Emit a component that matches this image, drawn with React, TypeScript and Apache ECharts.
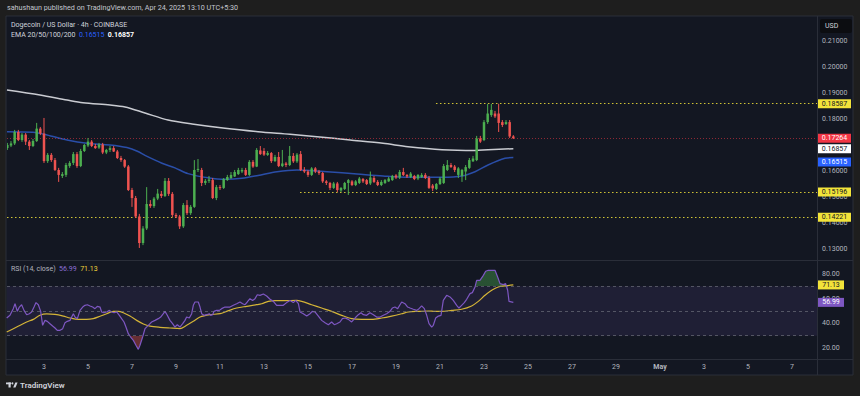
import React, { useEffect, useRef } from "react";
import * as echarts from "echarts";

// ---------- DATA ----------
// 4h candles; candle i is centred at CANDLE_FIRST_HOUR + i * CANDLE_STEP_HOURS hours after 1 Apr 2025 00:00 (chart time)
const CANDLE_FIRST_HOUR = 8;
const CANDLE_STEP_HOURS = 4;
// [open, high, low, close]
const CANDLES: [number, number, number, number][] = [
  [0.1688, 0.1708, 0.1681, 0.17], [0.1698, 0.1715, 0.1692, 0.1706], [0.1706, 0.1758, 0.17, 0.175], [0.175, 0.1758, 0.1715, 0.1719],
  [0.1719, 0.1746, 0.1712, 0.174], [0.174, 0.1746, 0.17, 0.1713], [0.1713, 0.1719, 0.1681, 0.1696], [0.1696, 0.1723, 0.1692, 0.1715],
  [0.1715, 0.1785, 0.1712, 0.1763], [0.1763, 0.1769, 0.1738, 0.1744], [0.1744, 0.1804, 0.1631, 0.1638], [0.1638, 0.1669, 0.1631, 0.1662],
  [0.1662, 0.1669, 0.1635, 0.1642], [0.1642, 0.165, 0.16, 0.1604], [0.1604, 0.1612, 0.1558, 0.1585], [0.1581, 0.1596, 0.1573, 0.1588],
  [0.1585, 0.1631, 0.1577, 0.1623], [0.1619, 0.1638, 0.1612, 0.1631], [0.1631, 0.1673, 0.1623, 0.1665], [0.1665, 0.1673, 0.1612, 0.1619],
  [0.1619, 0.1685, 0.1615, 0.1677], [0.1677, 0.1704, 0.1673, 0.17], [0.1698, 0.1727, 0.1692, 0.1713], [0.1713, 0.1719, 0.1692, 0.1696],
  [0.1696, 0.1704, 0.1685, 0.1688], [0.169, 0.1708, 0.1685, 0.1702], [0.1702, 0.1708, 0.1665, 0.1671], [0.1671, 0.1685, 0.1665, 0.1681],
  [0.1681, 0.1696, 0.1673, 0.1688], [0.1688, 0.1696, 0.1673, 0.1675], [0.1675, 0.1681, 0.1646, 0.165], [0.165, 0.1658, 0.1635, 0.1642],
  [0.1642, 0.1646, 0.1612, 0.1617], [0.1617, 0.1623, 0.1523, 0.1527], [0.1527, 0.1535, 0.1462, 0.1496], [0.1496, 0.1504, 0.1419, 0.1425],
  [0.1425, 0.1435, 0.1304, 0.1323], [0.1323, 0.1388, 0.1315, 0.1379], [0.1379, 0.1538, 0.1373, 0.1473], [0.1473, 0.1488, 0.1458, 0.1465],
  [0.1465, 0.15, 0.1458, 0.1494], [0.1494, 0.1531, 0.1488, 0.1513], [0.1512, 0.1523, 0.1496, 0.1504], [0.1504, 0.1573, 0.15, 0.1562],
  [0.1562, 0.1573, 0.1504, 0.1512], [0.1512, 0.1519, 0.1423, 0.1431], [0.1431, 0.1438, 0.1419, 0.1425], [0.1425, 0.1431, 0.1377, 0.1387],
  [0.1387, 0.1477, 0.1381, 0.1469], [0.1469, 0.1488, 0.1431, 0.1438], [0.1438, 0.1469, 0.1431, 0.1462], [0.1462, 0.1642, 0.1458, 0.1604],
  [0.1604, 0.1646, 0.1596, 0.1608], [0.1604, 0.1612, 0.1542, 0.1554], [0.1554, 0.1569, 0.1546, 0.1562], [0.1562, 0.1581, 0.1554, 0.1567],
  [0.1565, 0.1573, 0.1492, 0.1496], [0.1496, 0.1546, 0.1488, 0.1538], [0.1538, 0.1546, 0.1527, 0.1535], [0.1535, 0.1573, 0.1531, 0.1569],
  [0.1565, 0.1585, 0.1562, 0.1577], [0.1573, 0.1596, 0.1569, 0.1585], [0.1579, 0.1604, 0.1577, 0.1596], [0.1588, 0.1612, 0.1585, 0.1604],
  [0.1598, 0.1612, 0.1592, 0.1604], [0.1604, 0.1612, 0.1581, 0.1585], [0.1585, 0.1642, 0.1581, 0.1635], [0.1635, 0.1642, 0.1612, 0.1617],
  [0.1617, 0.1688, 0.1615, 0.1681], [0.1679, 0.1696, 0.1662, 0.1665], [0.1677, 0.1688, 0.1658, 0.1663], [0.1662, 0.1677, 0.1658, 0.1669],
  [0.1669, 0.1673, 0.1631, 0.1638], [0.1638, 0.1662, 0.1635, 0.1654], [0.1654, 0.1673, 0.1615, 0.1619], [0.1619, 0.1681, 0.1615, 0.1629],
  [0.1629, 0.1635, 0.1615, 0.1623], [0.1623, 0.1696, 0.1619, 0.1658], [0.1658, 0.1669, 0.1631, 0.1637], [0.1637, 0.1669, 0.1631, 0.1663],
  [0.1665, 0.1677, 0.16, 0.1604], [0.1604, 0.1615, 0.1592, 0.1598], [0.1598, 0.1604, 0.1577, 0.1585], [0.1585, 0.1615, 0.1581, 0.161],
  [0.161, 0.1615, 0.1592, 0.1598], [0.1598, 0.1604, 0.1585, 0.1592], [0.1592, 0.1596, 0.1554, 0.156], [0.156, 0.1565, 0.1546, 0.1554],
  [0.1554, 0.1558, 0.1527, 0.1535], [0.1535, 0.1558, 0.1531, 0.1552], [0.1552, 0.1558, 0.1519, 0.1527], [0.1525, 0.1538, 0.1519, 0.1535],
  [0.1531, 0.1558, 0.1527, 0.1554], [0.1554, 0.1569, 0.1508, 0.1565], [0.156, 0.1565, 0.1542, 0.1546], [0.1546, 0.1565, 0.1542, 0.156],
  [0.1554, 0.1577, 0.155, 0.1571], [0.1569, 0.1573, 0.1554, 0.156], [0.1565, 0.1569, 0.1546, 0.155], [0.1552, 0.1598, 0.1546, 0.1575],
  [0.1573, 0.1581, 0.1554, 0.1558], [0.1558, 0.1565, 0.1542, 0.1546], [0.1546, 0.1565, 0.1542, 0.1558], [0.1554, 0.1569, 0.155, 0.1565],
  [0.156, 0.1577, 0.1558, 0.1571], [0.1565, 0.1585, 0.1562, 0.1581], [0.1583, 0.1588, 0.1569, 0.1575], [0.1575, 0.1604, 0.1569, 0.1596],
  [0.1596, 0.1612, 0.1581, 0.1585], [0.1585, 0.1588, 0.1573, 0.1579], [0.1577, 0.1596, 0.1573, 0.159], [0.1581, 0.1585, 0.1565, 0.1569],
  [0.1571, 0.1588, 0.1565, 0.1585], [0.1577, 0.1592, 0.1573, 0.1585], [0.1585, 0.1592, 0.1569, 0.1573], [0.1573, 0.1581, 0.1531, 0.1535],
  [0.1544, 0.155, 0.1523, 0.1533], [0.1531, 0.1554, 0.1527, 0.155], [0.155, 0.1577, 0.1546, 0.1571], [0.1554, 0.1627, 0.155, 0.1619],
  [0.1604, 0.1642, 0.16, 0.1623], [0.1623, 0.1631, 0.1612, 0.1615], [0.1617, 0.1623, 0.1596, 0.1604], [0.1585, 0.1615, 0.1573, 0.161],
  [0.1581, 0.1608, 0.1558, 0.1604], [0.1598, 0.1623, 0.1565, 0.1615], [0.1612, 0.165, 0.1608, 0.1642], [0.1637, 0.1658, 0.1635, 0.1648],
  [0.1642, 0.1735, 0.1638, 0.1725], [0.1725, 0.1735, 0.1708, 0.1713], [0.1719, 0.1796, 0.1715, 0.1788], [0.1788, 0.1858, 0.1781, 0.1821],
  [0.1815, 0.1858, 0.1808, 0.1835], [0.1821, 0.1831, 0.1804, 0.181], [0.1821, 0.18587, 0.175, 0.1785], [0.1788, 0.1796, 0.1769, 0.1777],
  [0.1781, 0.1796, 0.1777, 0.1788], [0.1788, 0.1796, 0.1727, 0.1733], [0.1733, 0.1738, 0.1723, 0.17264],
];

// [hour, value]
const EMA_WHITE: [number, number][] = [
  [7.6, 0.19115], [43.6, 0.18923], [73.1, 0.18731], [90.5, 0.18627], [120, 0.18538], [136.4, 0.18462], [158.2, 0.18231],
  [183.3, 0.17962], [209.5, 0.17808], [245.5, 0.17642], [281.5, 0.17512], [316.4, 0.17412], [345.8, 0.17319], [381.8, 0.17192],
  [417.8, 0.17065], [445.1, 0.16935], [482.2, 0.1682], [518.2, 0.1679], [532.4, 0.1682], [560, 0.16857],
];
const EMA_BLUE: [number, number][] = [
  [7.6, 0.17512], [36, 0.17488], [51.3, 0.17385], [73.1, 0.17192], [94.9, 0.17065], [120, 0.17], [138.5, 0.169],
  [150.5, 0.1675], [158.2, 0.166], [176.7, 0.163], [190.9, 0.1612], [205.1, 0.159], [226.9, 0.1574], [245.5, 0.1568],
  [264, 0.15719], [281.5, 0.15827], [302.2, 0.15973], [324, 0.16038], [356.7, 0.15973], [389.5, 0.15885], [417.8, 0.15808],
  [445.1, 0.15758], [482.2, 0.15758], [504, 0.15808], [518.2, 0.15973], [532.4, 0.16231], [550.9, 0.16488], [560, 0.16515],
];

const RSI: [number, number][] = [
  [7.3, 44.3], [10.9, 46.5], [14.5, 51.9], [16.4, 55.9], [18.9, 49.7], [21.1, 53.2], [23.6, 55.1], [26.2, 50.5], [29.1, 47.0],
  [32.0, 47.8], [34.5, 49.2], [37.1, 53.2], [39.3, 56.8], [41.8, 55.1], [44.4, 49.7], [46.5, 38.4], [49.1, 42.4], [51.6, 41.6],
  [54.5, 39.7], [57.4, 37.8], [60.0, 36.2], [62.5, 34.3], [65.5, 34.3], [68.4, 35.7], [70.9, 40.5], [73.4, 41.6], [76.4, 42.4],
  [78.2, 45.1], [80.0, 47.8], [81.8, 45.1], [84.4, 43.8], [87.3, 50.5], [90.2, 53.2], [92.7, 54.6], [95.3, 55.1], [98.2, 54.1],
  [101.1, 53.2], [103.6, 51.9], [106.2, 53.8], [109.1, 53.2], [110.9, 49.2], [113.4, 48.6], [116.4, 49.2], [119.3, 50.5],
  [121.8, 49.2], [124.4, 48.6], [127.3, 49.2], [130.2, 46.5], [132.7, 43.8], [135.3, 41.1], [137.4, 37.0], [140.0, 31.6],
  [142.5, 28.9], [145.5, 26.2], [148.3, 22.2], [150.9, 18.9], [152.7, 22.2], [155.6, 28.9], [158.2, 35.7], [161.8, 38.4],
  [165.4, 41.1], [169.1, 42.4], [172.7, 43.8], [175.3, 45.1], [178.2, 47.8], [180.0, 49.7], [182.5, 46.5], [185.4, 42.4],
  [188.3, 39.7], [190.9, 37.0], [193.4, 38.9], [196.3, 37.0], [199.3, 39.7], [201.8, 42.4], [203.6, 45.1], [206.5, 44.3],
  [209.1, 47.8], [210.9, 54.6], [212.7, 57.3], [216.3, 57.3], [218.2, 53.2], [220.0, 47.8], [222.5, 46.5], [225.4, 47.0],
  [228.3, 47.8], [229.8, 46.5], [232.0, 47.0], [233.4, 49.7], [236.3, 50.5], [239.3, 50.5], [241.8, 51.9], [245.4, 53.2],
  [250.9, 53.2], [254.5, 54.6], [258.2, 55.9], [261.8, 57.3], [264.7, 55.9], [267.3, 55.1], [269.8, 57.3], [272.7, 60.0],
  [275.6, 58.6], [278.2, 60.0], [280.7, 63.2], [283.6, 62.7], [287.3, 63.8], [290.9, 62.2], [294.6, 59.5], [298.2, 57.8],
  [301.8, 54.6], [305.5, 54.6], [309.1, 54.6], [312.7, 56.8], [316.4, 58.6], [320.0, 56.8], [322.6, 58.6], [325.5, 55.9],
  [327.3, 49.2], [330.9, 47.8], [334.6, 45.9], [338.2, 47.8], [340.7, 49.7], [343.6, 49.2], [347.3, 45.9], [350.9, 42.4],
  [354.6, 40.5], [358.2, 38.9], [361.8, 41.1], [364.7, 38.9], [367.3, 39.7], [370.9, 41.1], [373.5, 43.8], [376.4, 44.3],
  [380.0, 43.2], [383.6, 41.1], [387.3, 44.3], [390.9, 47.0], [393.8, 48.6], [396.4, 47.0], [400.0, 46.5], [403.6, 48.6],
  [407.3, 47.0], [410.9, 45.1], [414.6, 45.1], [418.2, 46.5], [421.8, 47.8], [425.5, 49.7], [428.0, 52.4], [430.9, 53.2],
  [433.8, 51.9], [436.4, 55.1], [438.2, 57.3], [441.8, 55.9], [444.7, 53.2], [447.3, 52.4], [450.9, 51.4], [454.6, 50.5],
  [457.1, 51.9], [460.0, 54.1], [462.9, 51.9], [465.5, 46.5], [468.0, 39.7], [470.9, 37.0], [472.7, 38.4], [475.3, 44.3],
  [478.2, 45.9], [481.1, 46.5], [483.6, 58.6], [487.3, 62.7], [490.9, 61.4], [494.5, 58.6], [498.2, 54.6], [500.7, 52.4],
  [503.6, 54.6], [506.5, 56.8], [509.1, 59.5], [512.7, 64.1], [515.3, 64.9], [518.2, 69.5], [520.0, 74.9], [523.6, 74.9],
  [527.3, 78.9], [529.8, 82.2], [532.7, 83.0], [537.1, 83.0], [540.0, 83.0], [542.9, 77.6], [545.5, 72.2], [549.1, 71.4],
  [551.6, 72.2], [553.8, 66.8], [555.3, 57.8], [560.0, 56.99],
];
const RSI_MA: [number, number][] = [
  [7.3, 33.0], [18.2, 37.0], [29.1, 41.1], [36.4, 43.2], [43.6, 46.5], [50.9, 47.6], [60.0, 47.3], [69.1, 45.9], [76.4, 44.3],
  [85.5, 43.2], [94.5, 43.2], [101.8, 43.8], [109.1, 45.7], [116.4, 47.8], [123.6, 49.7], [129.1, 49.7], [134.5, 48.6],
  [141.8, 45.9], [149.1, 42.4], [156.4, 39.5], [163.6, 37.8], [174.5, 36.8], [185.4, 36.2], [196.3, 35.7], [203.6, 38.4],
  [210.9, 41.6], [218.2, 45.1], [229.1, 47.0], [240.0, 47.8], [247.3, 49.7], [258.2, 52.4], [269.1, 53.8], [280.0, 55.1],
  [285.5, 55.9], [292.7, 57.8], [300.0, 58.4], [310.9, 58.4], [323.6, 58.6], [329.1, 57.8], [340.0, 55.1], [350.9, 52.4],
  [361.8, 49.7], [372.7, 46.5], [383.6, 43.8], [394.5, 43.2], [405.5, 43.2], [416.4, 44.3], [427.3, 45.9], [438.2, 47.8],
  [445.5, 49.2], [456.4, 49.7], [467.3, 50.0], [474.5, 49.7], [481.8, 49.7], [492.7, 50.5], [503.6, 51.4], [514.5, 54.1],
  [521.8, 57.8], [529.1, 62.7], [536.4, 66.8], [543.6, 69.5], [550.9, 70.3], [560, 71.13],
];

// horizontal levels: [price, start hour]
const LEVELS_YELLOW: [number, number][] = [[0.18587, 475.6], [0.15196, 327.3], [0.14221, 0]];
const LAST_PRICE = 0.17264;
const EMA_WHITE_LAST = 0.16857;
const EMA_BLUE_LAST = 0.16515;
const RSI_LAST = 56.99;
const RSI_MA_LAST = 71.13;

const PRICE_TICKS = [0.13, 0.14, 0.15, 0.16, 0.18, 0.19, 0.2, 0.21];
const RSI_TICKS = [20, 40, 60, 80];
const RSI_BANDS = [30, 50, 70];
const DATE_TICKS = ["04-03", "04-05", "04-07", "04-09", "04-11", "04-13", "04-15", "04-17", "04-19", "04-21", "04-23", "04-25", "04-27", "04-29", "05-01", "05-03", "05-05", "05-07"];

// ---------- STYLE ----------
const UP = "#4caf50";
const DOWN = "#ef5350";
const YELLOW = "#f2e33a";
const BG = "#131722";
const TEXT = "#b2b5be";
const FONT = "Roboto, 'Liberation Sans', sans-serif";

const HMIN = 7.64;
const HMAX = 891.27;

const toHour = (md: string) => {
  const [m, d] = md.split("-").map(Number);
  return (Date.UTC(2025, m - 1, d) - Date.UTC(2025, 3, 1)) / 3600000;
};
const dateHours = DATE_TICKS.map(toHour);
const dateLabel = new Map<number, string>(DATE_TICKS.map((md) => {
  const d = Number(md.split("-")[1]);
  return [toHour(md), d === 1 ? "{b|May}" : String(d)];
}));

const priceTag = (v: number, bg: string, fg: string, dy = 0) => ({
  coord: [HMAX, v],
  symbol: "rect",
  symbolSize: [33, 9],
  symbolOffset: [17.5, dy],
  itemStyle: { color: bg },
  label: { show: true, position: "inside", formatter: v.toFixed(5), color: fg, fontSize: 7, fontFamily: FONT },
});
const rsiTag = (v: number, bg: string, fg: string) => ({
  coord: [HMAX, v],
  symbol: "rect",
  symbolSize: [26, 9],
  symbolOffset: [14, 0],
  itemStyle: { color: bg },
  label: { show: true, position: "inside", formatter: v.toFixed(2), color: fg, fontSize: 7, fontFamily: FONT },
});

export default function App() {
  const ref = useRef<HTMLDivElement>(null);
  useEffect(() => {
    document.body.style.margin = "0";
    if (!ref.current) return;
    const chart = echarts.init(ref.current, undefined, { renderer: "svg" });
    const candleData = CANDLES.map((c, i) => [CANDLE_FIRST_HOUR + i * CANDLE_STEP_HOURS, c[0], c[3], c[2], c[1]]);

    const option: any = {
      animation: false,
      backgroundColor: "#1e1e1e",
      textStyle: { fontFamily: FONT },
      grid: [
        { left: 7, right: 43, top: 16, bottom: 136 },
        { left: 7, right: 43, top: 260, bottom: 37 },
      ],
      xAxis: [
        { type: "value", gridIndex: 0, min: HMIN, max: HMAX, axisLine: { show: false }, axisTick: { show: false }, axisLabel: { show: false }, splitLine: { show: false } },
        {
          type: "value", gridIndex: 1, min: HMIN, max: HMAX,
          axisLine: { show: false }, axisTick: { show: false }, splitLine: { show: false },
          axisLabel: {
            customValues: dateHours, margin: 4, color: TEXT, fontSize: 7, fontFamily: FONT,
            formatter: (v: number) => dateLabel.get(v) ?? "",
            rich: { b: { fontWeight: "bold", color: TEXT, fontSize: 7, fontFamily: FONT } },
          },
        },
      ],
      yAxis: [
        {
          type: "value", gridIndex: 0, position: "right", min: 0.125769, max: 0.219615, scale: true,
          axisLine: { show: false }, axisTick: { show: false }, splitLine: { show: false },
          axisLabel: { customValues: PRICE_TICKS, margin: 5, color: TEXT, fontSize: 7, fontFamily: FONT, formatter: (v: number) => v.toFixed(5) },
        },
        {
          type: "value", gridIndex: 1, position: "right", min: 11.08, max: 91.35,
          axisLine: { show: false }, axisTick: { show: false }, splitLine: { show: false },
          axisLabel: { customValues: RSI_TICKS, margin: 5, color: TEXT, fontSize: 7, fontFamily: FONT, formatter: (v: number) => v.toFixed(2) },
        },
      ],
      visualMap: {
        type: "piecewise", show: false, seriesIndex: 3, dimension: 1,
        pieces: [
          { gt: 70, color: UP },
          { gte: 30, lte: 70, color: "rgba(0,0,0,0)" },
          { lt: 30, color: DOWN },
        ],
      },
      series: [
        {
          type: "custom", xAxisIndex: 0, yAxisIndex: 0, data: candleData, encode: { x: 0, y: [1, 2, 3, 4] }, z: 5, clip: true,
          renderItem: (_p: any, api: any) => {
            const h = api.value(0), o = api.value(1), c = api.value(2), l = api.value(3), hi = api.value(4);
            const pO = api.coord([h, o]), pC = api.coord([h, c]), pL = api.coord([h, l]), pH = api.coord([h, hi]);
            const w = api.size([CANDLE_STEP_HOURS, 0])[0] * 0.68;
            const color = c >= o ? UP : DOWN;
            const top = Math.min(pO[1], pC[1]);
            const ht = Math.max(Math.abs(pO[1] - pC[1]), 1);
            return {
              type: "group",
              children: [
                { type: "line", shape: { x1: pO[0], y1: pH[1], x2: pO[0], y2: pL[1] }, style: { stroke: color, lineWidth: 1 } },
                { type: "rect", shape: { x: pO[0] - w / 2, y: top, width: w, height: ht }, style: { fill: color } },
              ],
            };
          },
        },
        {
          type: "line", xAxisIndex: 0, yAxisIndex: 0, data: EMA_WHITE, showSymbol: false, smooth: 0.3, clip: false, z: 3,
          lineStyle: { color: "#c9cbd1", width: 1.5 }, silent: true,
          markLine: {
            silent: true, symbol: ["none", "none"], label: { show: false }, animation: false,
            data: [
              ...LEVELS_YELLOW.map(([v, start]) => [
                { coord: [Math.max(start, HMIN), v], lineStyle: { color: YELLOW, type: [1.5, 2.5], width: 1.2, opacity: 0.85 } },
                { coord: [HMAX, v] },
              ]),
              [
                { coord: [HMIN, LAST_PRICE], lineStyle: { color: "#f23645", type: [1, 2], width: 1, opacity: 0.55 } },
                { coord: [HMAX, LAST_PRICE] },
              ],
            ],
          },
          markPoint: {
            silent: true, animation: false,
            data: [
              ...LEVELS_YELLOW.map(([v]) => priceTag(v, YELLOW, "#131722")),
              priceTag(LAST_PRICE, "#f23645", "#ffffff"),
              priceTag(EMA_WHITE_LAST, "#ffffff", "#131722"),
              priceTag(EMA_BLUE_LAST, "#2962ff", "#ffffff", 4.5),
            ],
          },
        },
        {
          type: "line", xAxisIndex: 0, yAxisIndex: 0, data: EMA_BLUE, showSymbol: false, smooth: 0.3, z: 3, silent: true,
          lineStyle: { color: "#2a4ea8", width: 1.5 },
        },
        {
          type: "line", xAxisIndex: 1, yAxisIndex: 1, data: RSI, showSymbol: false, silent: true, z: 1,
          lineStyle: { width: 0, opacity: 0 },
          areaStyle: { origin: 70, opacity: 0.38 },
        },
        {
          type: "line", xAxisIndex: 1, yAxisIndex: 1, data: RSI, showSymbol: false, silent: true, z: 3, clip: false,
          lineStyle: { color: "#7e57c2", width: 1.2 },
          markArea: {
            silent: true,
            itemStyle: { color: "rgba(126,87,194,0.12)" },
            data: [[{ yAxis: RSI_BANDS[0] }, { yAxis: RSI_BANDS[2] }]],
          },
          markLine: {
            silent: true, symbol: ["none", "none"], label: { show: false },
            lineStyle: { color: "#787b86", type: [3, 3], width: 1, opacity: 0.6 },
            data: RSI_BANDS.map((v) => ({ yAxis: v })),
          },
          markPoint: {
            silent: true,
            data: [rsiTag(RSI_MA_LAST, YELLOW, "#131722"), rsiTag(RSI_LAST, "#7e57c2", "#ffffff")],
          },
        },
        {
          type: "line", xAxisIndex: 1, yAxisIndex: 1, data: RSI_MA, showSymbol: false, smooth: 0.3, silent: true, z: 2,
          lineStyle: { color: "#d4b437", width: 1.2 },
        },
      ],
      graphic: [
        { type: "rect", z: -10, silent: true, shape: { x: 6, y: 16, width: 847, height: 359 }, style: { fill: BG, stroke: "#2a2e39", lineWidth: 1 } },
        { type: "line", z: 50, silent: true, shape: { x1: 817.5, y1: 16, x2: 817.5, y2: 375 }, style: { stroke: "#2a2e39", lineWidth: 1 } },
        { type: "line", z: 50, silent: true, shape: { x1: 6, y1: 260.5, x2: 853, y2: 260.5 }, style: { stroke: "#2a2e39", lineWidth: 1 } },
        { type: "line", z: 50, silent: true, shape: { x1: 6, y1: 359.5, x2: 853, y2: 359.5 }, style: { stroke: "#2a2e39", lineWidth: 1 } },
        {
          type: "text", silent: true, left: 7, top: 4,
          style: { text: "sahushaun published on TradingView.com, Apr 24, 2025 13:10 UTC+5:30", fill: "#c3c6ce", fontSize: 7.2, fontFamily: FONT },
        },
        {
          type: "text", silent: true, left: 11, top: 21,
          style: { text: "Dogecoin / US Dollar · 4h · COINBASE", fill: "#d1d4dc", fontSize: 7, fontFamily: FONT },
        },
        {
          type: "text", silent: true, left: 11, top: 31,
          style: {
            text: `{a|EMA 20/50/100/200}  {b|${EMA_BLUE_LAST.toFixed(5)}}  {c|${EMA_WHITE_LAST.toFixed(5)}}`,
            fontSize: 7, fontFamily: FONT,
            rich: {
              a: { fill: "#d1d4dc", fontSize: 7, fontFamily: FONT },
              b: { fill: "#2962ff", fontSize: 7, fontFamily: FONT },
              c: { fill: "#ffffff", fontSize: 7, fontWeight: "bold", fontFamily: FONT },
            },
          },
        },
        {
          type: "text", silent: true, left: 11, top: 265,
          style: {
            text: `{a|RSI (14, close)}  {b|${RSI_LAST.toFixed(2)}}  {c|${RSI_MA_LAST.toFixed(2)}}`,
            fontSize: 7, fontFamily: FONT,
            rich: {
              a: { fill: "#b2b5be", fontSize: 7, fontFamily: FONT },
              b: { fill: "#8c6fd6", fontSize: 7, fontFamily: FONT },
              c: { fill: "#f0d43a", fontSize: 7, fontFamily: FONT },
            },
          },
        },
        { type: "rect", silent: true, z: 60, shape: { x: 820, y: 19, width: 32, height: 14, r: 2 }, style: { fill: "#0c0d11" } },
        { type: "text", silent: true, z: 61, left: 825, top: 22.5, style: { text: "USD", fill: "#d1d4dc", fontSize: 7, fontFamily: FONT } },
        // TradingView logo
        { type: "rect", silent: true, shape: { x: 6, y: 382.5, width: 5, height: 1.8 }, style: { fill: "#d1d4dc" } },
        { type: "rect", silent: true, shape: { x: 8.5, y: 382.5, width: 2.2, height: 5 }, style: { fill: "#d1d4dc" } },
        { type: "circle", silent: true, shape: { cx: 12.4, cy: 383.4, r: 0.95 }, style: { fill: "#d1d4dc" } },
        { type: "polygon", silent: true, shape: { points: [[13.2, 387.5], [15.3, 382.5], [17.6, 382.5], [15.5, 387.5]] }, style: { fill: "#d1d4dc" } },
        { type: "text", silent: true, left: 20, top: 381, style: { text: "TradingView", fill: "#d1d4dc", fontSize: 8, fontWeight: 600, fontFamily: FONT } },
      ],
    };
    chart.setOption(option);
    return () => chart.dispose();
  }, []);
  return <div ref={ref} style={{ width: 860, height: 396 }} />;
}
